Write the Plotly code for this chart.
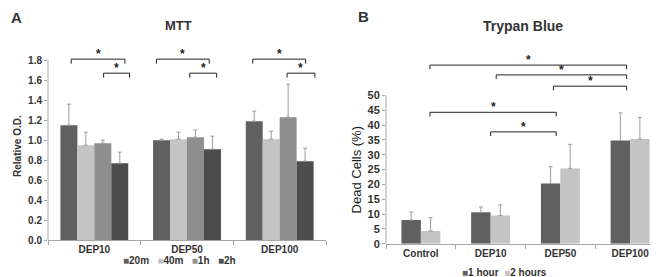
import plotly.graph_objects as go

# ---------------- data ----------------
mtt_categories = ["DEP10", "DEP50", "DEP100"]
mtt_series = ["20m", "40m", "1h", "2h"]
mtt_20m = [1.15, 1.00, 1.19]
mtt_40m = [0.95, 1.01, 1.01]
mtt_1h = [0.97, 1.03, 1.23]
mtt_2h = [0.77, 0.91, 0.79]
mtt_20m_err = [0.21, 0.01, 0.10]
mtt_40m_err = [0.13, 0.07, 0.08]
mtt_1h_err = [0.03, 0.07, 0.33]
mtt_2h_err = [0.11, 0.13, 0.13]
mtt_yticks = [0.0, 0.2, 0.4, 0.6, 0.8, 1.0, 1.2, 1.4, 1.6, 1.8]

tb_categories = ["Control", "DEP10", "DEP50", "DEP100"]
tb_series = ["1 hour", "2 hours"]
tb_1hour = [8.0, 10.6, 20.3, 34.8]
tb_2hours = [4.3, 9.5, 25.4, 35.3]
tb_1hour_err = [2.7, 1.8, 5.7, 9.3]
tb_2hours_err = [4.5, 3.6, 8.1, 7.3]
tb_yticks = [0, 5, 10, 15, 20, 25, 30, 35, 40, 45, 50]

# significance brackets: (x start, x end, height) in axis units
mtt_brackets = [(-0.25, 0.33, 1.81), (0.10, 0.38, 1.67),
                (0.67, 1.24, 1.81), (1.03, 1.32, 1.67),
                (1.71, 2.28, 1.81), (2.08, 2.38, 1.67)]
tb_brackets = [(0.13, 2.95, 60.2), (1.08, 2.95, 56.9), (1.90, 2.95, 53.1),
               (0.13, 1.94, 44.3), (1.00, 1.94, 37.7)]

# ---------------- style ----------------
FONT = "Liberation Sans"
TXT = "#333333"
AXC = "#a6a6a6"
ERRC = "#9c9c9c"
mtt_colors = ["#606060", "#c4c4c4", "#8e8e8e", "#4c4c4c"]
tb_colors = ["#606060", "#c4c4c4"]

fig = go.Figure()

# Panel A bars
mtt_vals = [mtt_20m, mtt_40m, mtt_1h, mtt_2h]
mtt_errs = [mtt_20m_err, mtt_40m_err, mtt_1h_err, mtt_2h_err]
wA = 0.183
for i, (name, vals, errs, col) in enumerate(zip(mtt_series, mtt_vals, mtt_errs, mtt_colors)):
    fig.add_trace(go.Bar(
        x=mtt_categories, y=vals, name=name, marker=dict(color=col, line=dict(width=0)),
        width=wA, offset=-2 * wA + i * wA,
        error_y=dict(type="data", array=errs, arrayminus=[0] * len(errs), symmetric=False,
                     color=ERRC, thickness=1, width=2),
        xaxis="x", yaxis="y", showlegend=False))

# Panel B bars
tb_vals = [tb_1hour, tb_2hours]
tb_errs = [tb_1hour_err, tb_2hours_err]
wB = 0.279
for i, (name, vals, errs, col) in enumerate(zip(tb_series, tb_vals, tb_errs, tb_colors)):
    fig.add_trace(go.Bar(
        x=tb_categories, y=vals, name=name, marker=dict(color=col, line=dict(width=0)),
        width=wB, offset=-wB + i * wB,
        error_y=dict(type="data", array=errs, arrayminus=[0] * len(errs), symmetric=False,
                     color=ERRC, thickness=1, width=2),
        xaxis="x2", yaxis="y2", showlegend=False))

shapes = []
annotations = []

def add_brackets(brs, xref, yref, drop):
    for x0, x1, y in brs:
        for seg in [(x0, y - drop, x0, y), (x0, y, x1, y), (x1, y, x1, y - drop)]:
            shapes.append(dict(type="line", xref=xref, yref=yref,
                               x0=seg[0], y0=seg[1], x1=seg[2], y1=seg[3],
                               line=dict(color="#222222", width=1)))
        annotations.append(dict(x=(x0 + x1) / 2, y=y, xref=xref, yref=yref, text="*",
                                showarrow=False, yanchor="bottom", yshift=-4,
                                font=dict(family=FONT, size=12, color="#222222", weight="bold")))

add_brackets(mtt_brackets, "x", "y", 0.045)
add_brackets(tb_brackets, "x2", "y2", 1.4)

# y axis lines only up to the top tick
shapes.append(dict(type="line", xref="x domain", yref="y", x0=0, x1=0, y0=0, y1=1.8,
                   line=dict(color=AXC, width=1)))
shapes.append(dict(type="line", xref="x2 domain", yref="y2", x0=0, x1=0, y0=0, y1=50,
                   line=dict(color=AXC, width=1)))

def pa(x, y, text, size, weight="bold", angle=0, xanchor="center", color=TXT):
    annotations.append(dict(x=x / 658, y=1 - y / 277, xref="paper", yref="paper", text=text,
                            showarrow=False, textangle=angle, xanchor=xanchor, yanchor="middle",
                            font=dict(family=FONT, size=size, color=color, weight=weight)))

pa(8, 10, "A", 15)
pa(355, 9, "B", 15)
pa(170, 18, "MTT", 13)
pa(515, 18, "Trypan Blue", 14)
pa(10, 141, "Relative O.D.", 10, angle=-90)
pa(348, 166, "Dead Cells (%)", 13, weight="normal", angle=-90, color="#222222")

legA = "&nbsp;&nbsp;&nbsp;".join(
    f'<span style="color:{c}">■</span>{n}' for n, c in zip(mtt_series, mtt_colors))
legB = "&nbsp;&nbsp;".join(
    f'<span style="color:{c}">■</span>{n}' for n, c in zip(tb_series, tb_colors))
pa(171, 258, legA, 10)
pa(496, 270, legB, 10)

tickfontA = dict(family=FONT, size=10, color=TXT, weight="bold")
tickfontB = dict(family=FONT, size=11, color=TXT, weight="bold")

fig.update_layout(
    width=658, height=277, margin=dict(l=0, r=0, t=0, b=0),
    paper_bgcolor="white", plot_bgcolor="white",
    barmode="overlay", showlegend=False,
    shapes=shapes, annotations=annotations,
    xaxis=dict(domain=[40 / 658, 318 / 658], anchor="y", type="category",
               range=[-0.5, 2.5], showline=True, linecolor=AXC, linewidth=1,
               ticks="outside", tickson="boundaries", ticklen=4, tickcolor=AXC,
               showgrid=False, zeroline=False, tickfont=dict(family=FONT, size=10, color=TXT, weight="bold")),
    yaxis=dict(domain=[39.7 / 277, 233.9 / 277], anchor="x", range=[0, 1.9],
               tickvals=mtt_yticks, ticktext=[f"{v:.1f}" for v in mtt_yticks],
               ticks="outside", ticklen=3, tickcolor=AXC, showline=False,
               showgrid=False, zeroline=False, tickfont=tickfontA),
    xaxis2=dict(domain=[378 / 658, 657 / 658], anchor="y2", type="category",
                range=[-0.5, 3.5], showline=True, linecolor=AXC, linewidth=1,
                ticks="outside", tickson="boundaries", ticklen=4, tickcolor=AXC,
                showgrid=False, zeroline=False, tickfont=dict(family=FONT, size=10, color=TXT, weight="bold")),
    yaxis2=dict(domain=[36 / 277, 224.1 / 277], anchor="x2", range=[0, 62],
                tickvals=tb_yticks, ticks="outside", ticklen=3, tickcolor=AXC, showline=False,
                showgrid=False, zeroline=False, tickfont=tickfontB),
)

fig.write_html("out.html")
